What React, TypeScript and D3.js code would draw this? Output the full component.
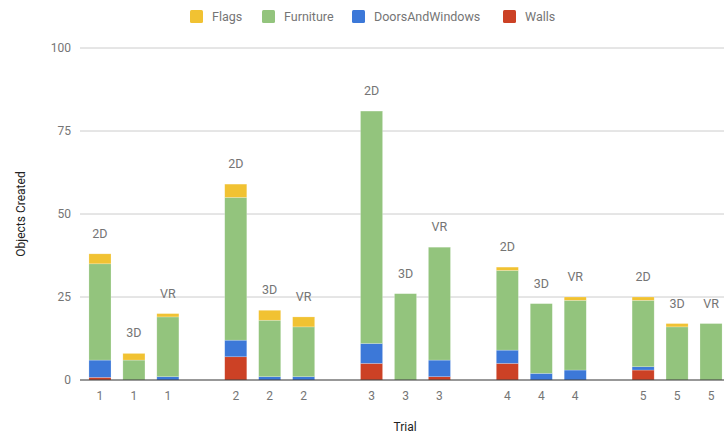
import React from "react";
import * as d3 from "d3";

// Trial number shown under each bar and the mode label above it
const trials = ["1", "2", "3", "4", "5"];
const modes = ["2D", "3D", "VR"];

// Stacked series, one value per bar (trial-major, mode-minor)
const walls = [0.8, 0, 0, 7, 0, 0, 5, 0, 1, 5, 0, 0, 3, 0, 0];
const doorsAndWindows = [5.2, 0, 1, 5, 1, 1, 6, 0, 5, 4, 2, 3, 1, 0, 0];
const furniture = [29, 6, 18, 43, 17, 15, 70, 26, 34, 24, 21, 21, 20, 16, 17];
const flags = [3, 2, 1, 4, 3, 3, 0, 0, 0, 1, 0, 1, 1, 1, 0];

const yTicks = [0, 25, 50, 75, 100];

const seriesNames = ["Walls", "DoorsAndWindows", "Furniture", "Flags"];
const seriesValues = [walls, doorsAndWindows, furniture, flags];
const colors: Record<string, string> = {
  Flags: "#f1c232",
  Furniture: "#93c47d",
  DoorsAndWindows: "#3c78d8",
  Walls: "#cc4125",
};
const legendOrder = ["Flags", "Furniture", "DoorsAndWindows", "Walls"];

const W = 724;
const H = 438;
const FONT = "Roboto, Arial, sans-serif";
const LABEL = "#757575";

export default function App() {
  const slotsPerGroup = modes.length + 1;
  const slotCount = trials.length * slotsPerGroup - 1;
  const x = d3
    .scaleBand<number>()
    .domain(d3.range(slotCount))
    .range([83, 728])
    .paddingInner(0.35)
    .paddingOuter(0.175);
  const y = d3.scaleLinear().domain([0, 100]).range([380, 48]);

  const bars = trials.flatMap((t, g) =>
    modes.map((m, k) => ({ trial: t, mode: m, idx: g * modes.length + k, slot: g * slotsPerGroup + k }))
  );

  const rows = bars.map((b) => {
    const r: Record<string, number> = {};
    seriesNames.forEach((s, si) => (r[s] = seriesValues[si][b.idx]));
    return r;
  });
  const stacked = d3.stack<Record<string, number>>().keys(seriesNames)(rows);

  const legendX = [190, 262, 352, 503];

  return (
    <svg
      width={W}
      height={H}
      style={{ position: "absolute", left: 0, top: 0, background: "#fff" }}
      fontFamily={FONT}
    >
      {/* legend */}
      {legendOrder.map((name, i) => (
        <g key={name} transform={`translate(${legendX[i]},10)`}>
          <rect width={13} height={13} rx={1.5} fill={colors[name]} />
          <text x={22} y={11} fontSize={12.5} fill={LABEL}>
            {name}
          </text>
        </g>
      ))}

      {/* gridlines and y ticks */}
      {yTicks.map((t) => (
        <g key={t}>
          {t !== 0 && <line x1={80} x2={W} y1={y(t)} y2={y(t)} stroke="#cccccc" strokeWidth={1} />}
          <text x={71} y={y(t)} dy="0.35em" textAnchor="end" fontSize={12} fill={LABEL}>
            {t}
          </text>
        </g>
      ))}

      {/* stacked bars */}
      {stacked.map((layer) => (
        <g key={layer.key} fill={colors[layer.key]}>
          {layer.map((d, i) =>
            d[1] - d[0] > 0 ? (
              <rect
                key={i}
                x={x(bars[i].slot)}
                width={x.bandwidth()}
                y={y(d[1])}
                height={y(d[0]) - y(d[1])}
                stroke="#ffffff"
                strokeOpacity={0.35}
                strokeWidth={0.6}
              />
            ) : null
          )}
        </g>
      ))}

      {/* mode labels above each bar */}
      {bars.map((b, i) => {
        const top = d3.sum(seriesValues, (s) => s[i]);
        return (
          <text
            key={`m${i}`}
            x={(x(b.slot) ?? 0) + x.bandwidth() / 2}
            y={y(top) - 16}
            textAnchor="middle"
            fontSize={12.5}
            fill={LABEL}
          >
            {b.mode}
          </text>
        );
      })}

      {/* baseline */}
      <line x1={80} x2={W} y1={y(0)} y2={y(0)} stroke="#333" strokeWidth={1.2} />

      {/* x tick labels */}
      {bars.map((b, i) => (
        <text
          key={`t${i}`}
          x={(x(b.slot) ?? 0) + x.bandwidth() / 2}
          y={400}
          textAnchor="middle"
          fontSize={12}
          fill={LABEL}
        >
          {b.trial}
        </text>
      ))}

      {/* axis titles */}
      <text x={405} y={431} textAnchor="middle" fontSize={12} fill="#222">
        Trial
      </text>
      <text
        transform={`translate(25,214) rotate(-90)`}
        textAnchor="middle"
        fontSize={12}
        fill="#222"
      >
        Objects Created
      </text>
    </svg>
  );
}
